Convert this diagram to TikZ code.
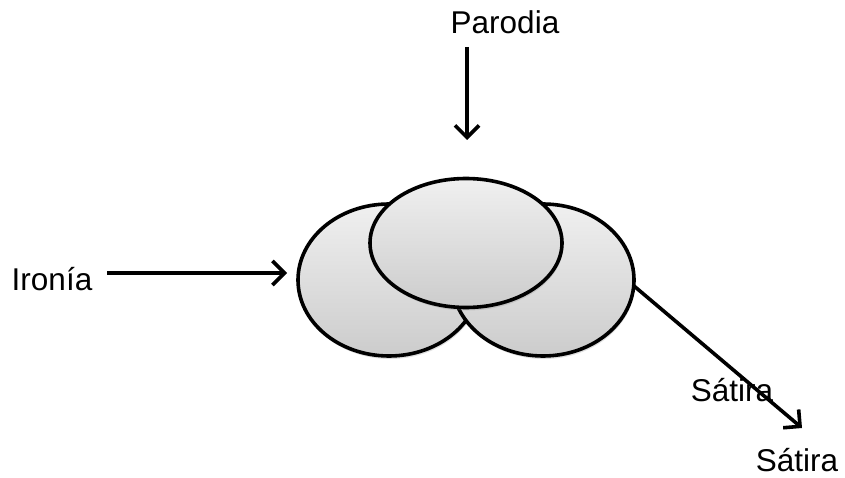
\documentclass[tikz,border=0pt]{standalone}
\usepackage{fontspec}
\setmainfont{Liberation Sans}
\usetikzlibrary{shapes.geometric,arrows.meta,shadows}
\begin{document}
\begin{tikzpicture}[x=1pt,y=-1pt,
  blob/.style={ellipse,draw=black,line width=3.6pt,top color=gray!12,bottom color=gray!40,
    drop shadow={shadow xshift=1pt,shadow yshift=-3pt,opacity=0.25,fill=gray},inner sep=0pt},
  lbl/.style={font=\fontsize{31.5}{36}\selectfont,inner sep=0pt},
  arr/.style={line width=3.6pt,-{Straight Barb[length=12pt,width=24pt,line width=3.6pt]}}]
\useasboundingbox (0,0) rectangle (845,478);
\node[blob,minimum width=182pt,minimum height=152pt] (L) at (389,280) {};
\node[blob,minimum width=182pt,minimum height=152pt] (R) at (543,280) {};
\node[blob,minimum width=192pt,minimum height=129pt] (T) at (466,243) {};
\node[lbl] (par) at (505,22) {Parodia};
\node[lbl] (iro) at (52,279) {Ironía};
\node[lbl] (sat1) at (732,390) {Sátira};
\node[lbl] (sat2) at (797,460) {Sátira};
\coordinate (ptop) at (467,47);
\coordinate (pend) at (467,140);
\coordinate (istart) at (107,273);
\coordinate (iend) at (287,273);
\coordinate (sstart) at (634,286);
\coordinate (send) at (802,428);
\draw[arr] (ptop) -- (pend);
\draw[arr] (istart) -- (iend);
\draw[arr] (sstart) -- (send);
\end{tikzpicture}
\end{document}
